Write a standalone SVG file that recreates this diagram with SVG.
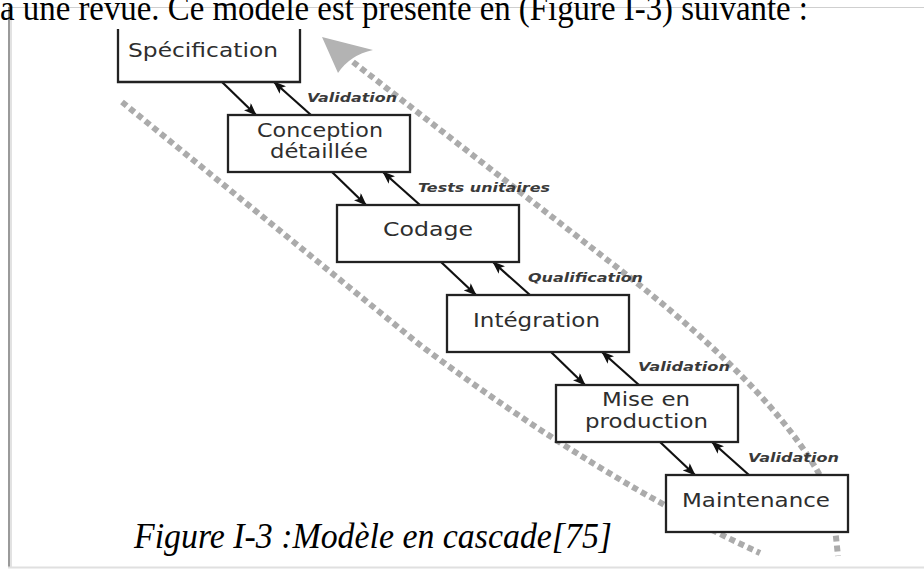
<svg xmlns="http://www.w3.org/2000/svg" width="924" height="570" viewBox="0 0 924 570">
<style>
.box{fill:#fff;stroke:#222;stroke-width:2.3}
.nt{font-family:"DejaVu Sans",Verdana,sans-serif;font-size:19px;fill:#2e2e2e}
.lb{font-family:"DejaVu Sans",Verdana,sans-serif;font-size:12.5px;font-style:italic;font-weight:bold;fill:#3a3a3a}
.ar{stroke:#111;stroke-width:2.2;fill:none;marker-end:url(#ah)}
.band{fill:none;stroke:#ababab;stroke-width:6;stroke-dasharray:6 4}
.doc{font-family:"Liberation Serif","Times New Roman",serif;font-size:35px;fill:#000}
</style>
<defs>
<marker id="ah" markerUnits="userSpaceOnUse" markerWidth="13" markerHeight="10" viewBox="0 0 13 10" refX="12" refY="5" orient="auto">
<path d="M0,0 L13,5 L0,10 L3,5 Z" fill="#111"/>
</marker>
</defs>
<rect width="924" height="570" fill="#fff"/>
<g id="page">
<line x1="8" y1="7.5" x2="924" y2="7.5" stroke="#cfcfcf" stroke-width="1"/>
<line x1="9" y1="7" x2="9" y2="568" stroke="#9a9a9a" stroke-width="2"/>
<line x1="11" y1="8" x2="11" y2="567" stroke="#e2e2e2" stroke-width="2"/>
<line x1="8" y1="567.5" x2="924" y2="567.5" stroke="#e0e0e0" stroke-width="2"/>
<text class="doc" x="0" y="20" textLength="808" lengthAdjust="spacingAndGlyphs">a une revue. Ce modèle est présenté en (Figure I-3) suivante :</text>
<text class="doc" x="134" y="548" font-style="italic" textLength="478" lengthAdjust="spacingAndGlyphs">Figure I-3 :Modèle en cascade[75]</text>
</g>
<g id="bands">
<path class="band" d="M353,62 L610,262 Q790,400 832,500 L838,556"/>
<path class="band" d="M122,102 L420,345 Q600,480 760,553"/>
<path d="M322,37 L373,50 Q350,55 338,73 Z" fill="#b3b3b3"/>
</g>
<g id="connectors">
<line class="ar" x1="222" y1="82" x2="256" y2="115"/>
<line class="ar" x1="311" y1="115" x2="274" y2="82"/>
<line class="ar" x1="332" y1="172" x2="366" y2="205"/>
<line class="ar" x1="420" y1="205" x2="383" y2="172"/>
<line class="ar" x1="441" y1="262" x2="476" y2="295"/>
<line class="ar" x1="530" y1="295" x2="493" y2="262"/>
<line class="ar" x1="551" y1="352" x2="585" y2="385"/>
<line class="ar" x1="639" y1="385" x2="602" y2="352"/>
<line class="ar" x1="660" y1="442" x2="695" y2="475"/>
<line class="ar" x1="749" y1="475" x2="712" y2="442"/>
<text class="lb" x="307" y="102" textLength="90" lengthAdjust="spacingAndGlyphs">Validation</text>
<text class="lb" x="418" y="192" textLength="132" lengthAdjust="spacingAndGlyphs">Tests unitaires</text>
<text class="lb" x="528" y="282" textLength="115" lengthAdjust="spacingAndGlyphs">Qualification</text>
<text class="lb" x="638" y="371" textLength="92" lengthAdjust="spacingAndGlyphs">Validation</text>
<text class="lb" x="748" y="462" textLength="91" lengthAdjust="spacingAndGlyphs">Validation</text>
</g>
<g id="specification">
<path d="M118,29 V82 H300 V29" fill="#fff" stroke="#222" stroke-width="2.3"/>
<text class="nt" x="128" y="57" textLength="150" lengthAdjust="spacingAndGlyphs">Spécification</text>
</g>
<g id="conception">
<rect class="box" x="228" y="115" width="182" height="57"/>
<text class="nt" x="257" y="137" textLength="126" lengthAdjust="spacingAndGlyphs">Conception</text>
<text class="nt" x="270" y="158" textLength="98" lengthAdjust="spacingAndGlyphs">détaillée</text>
</g>
<g id="codage">
<rect class="box" x="337" y="205" width="182" height="57"/>
<text class="nt" x="383" y="236" textLength="90" lengthAdjust="spacingAndGlyphs">Codage</text>
</g>
<g id="integration">
<rect class="box" x="447" y="295" width="182" height="57"/>
<text class="nt" x="473" y="327" textLength="127" lengthAdjust="spacingAndGlyphs">Intégration</text>
</g>
<g id="mise-en-production">
<rect class="box" x="556" y="385" width="182" height="57"/>
<text class="nt" x="602" y="406" textLength="88" lengthAdjust="spacingAndGlyphs">Mise en</text>
<text class="nt" x="585" y="428" textLength="123" lengthAdjust="spacingAndGlyphs">production</text>
</g>
<g id="maintenance">
<rect class="box" x="666" y="475" width="182" height="57"/>
<text class="nt" x="682" y="507" textLength="148" lengthAdjust="spacingAndGlyphs">Maintenance</text>
</g>
</svg>
